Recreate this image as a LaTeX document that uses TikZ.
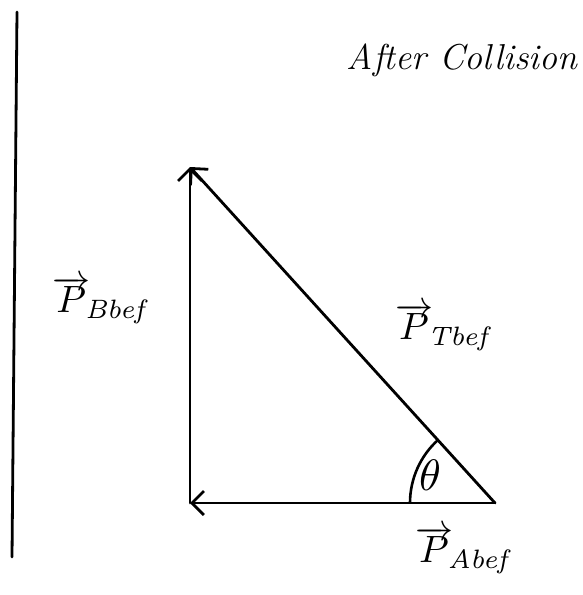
\documentclass[tikz,border=0pt]{standalone}
\usetikzlibrary{arrows.meta,calc}
\begin{document}
\begin{tikzpicture}[x=1pt,y=-1pt,
  stroke/.style={line width=2.8pt,line cap=round},
  vec/.style={stroke,-{Straight Barb[length=12pt,width=24pt,line width=2.8pt]}},
  lbl/.style={inner sep=0pt,scale=3.8}]
\useasboundingbox (0,0) rectangle (582,595);
\coordinate (wt) at (17,12);
\coordinate (wb) at (12,557);
\coordinate (A) at (190,503);
\coordinate (B) at (495,503);
\coordinate (C) at (190,167);
\draw[stroke] (wt) -- (wb);
\draw[vec] (A) -- (C);
\draw[vec] (B) -- (C);
\draw[vec] (B) -- (A);
\draw[line width=2.6pt] ($(B)+(-85,0)$) arc[start angle=180,end angle=228,radius=85];
\node[inner sep=0pt,scale=4.4] (th) at (430,475) {$\theta$};
\node[inner sep=0pt,anchor=center,font=\fontsize{36}{40}\selectfont\itshape] (title) at (462,60) {After Collision};
\node[lbl] (pb) at (102,300) {$\overrightarrow{P}_{\!\mathit{Bbef}}$};
\node[lbl] (pt) at (445,327) {$\overrightarrow{P}_{\!\mathit{Tbef}}$};
\node[lbl] (pa) at (465,550) {$\overrightarrow{P}_{\!\mathit{Abef}}$};
\end{tikzpicture}
\end{document}
